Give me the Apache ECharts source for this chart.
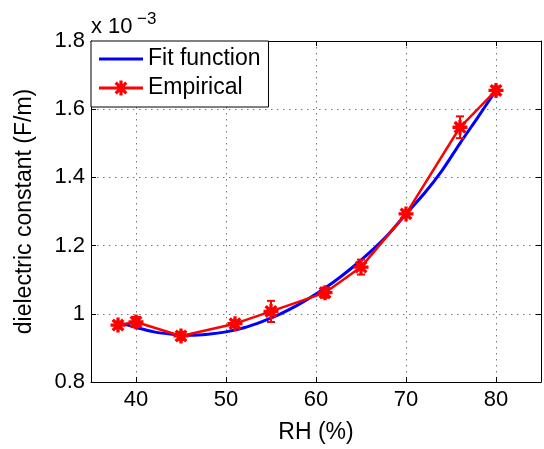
<!DOCTYPE html>
<html>
<head>
<meta charset="utf-8">
<script src="https://cdn.jsdelivr.net/npm/echarts@6/dist/echarts.min.js"></script>
<style>
  html, body { margin: 0; padding: 0; background: #fff; }
  #chart { width: 544px; height: 449px; }
</style>
</head>
<body>
<div id="chart"></div>
<script>
// Measured dielectric constant (x 10^-3 F/m) versus relative humidity
const rh = [38, 40, 45, 51, 55, 61, 65, 70, 76, 80];
const empirical = [0.967, 0.976, 0.935, 0.971, 1.007, 1.062, 1.137, 1.293, 1.547, 1.655];
const errorHalf = [0.010, 0.015, 0.012, 0.010, 0.031, 0.015, 0.022, 0.010, 0.032, 0.012];

// Fitted curve, sampled along the RH range
const fitRh = [38, 40, 42, 44, 46, 48, 50, 52, 54, 56, 58, 60, 62, 64, 66, 68, 70, 72, 74, 76, 78, 80];
const fitValues = [0.975, 0.960, 0.947, 0.940, 0.937, 0.940, 0.947, 0.959, 0.977, 0.999, 1.026, 1.058,
                   1.094, 1.135, 1.181, 1.232, 1.293, 1.352, 1.420, 1.500, 1.577, 1.655];

// Axis ranges and tick labels
const xRange = [35, 85];
const xTicks = [40, 50, 60, 70, 80];
const yTicks = [0.8, 1, 1.2, 1.4, 1.6, 1.8];
const yStep = 0.2;

const FONT = '"Liberation Sans", Arial, Helvetica, sans-serif';

// MATLAB-style '*' marker: four bars (+ and x), all wound the same way
function pt(x, y) { return x.toFixed(3) + ',' + y.toFixed(3); }
function starPath(cx, cy, r, w) {
  const a = 0.7071 * r, d = 0.7071 * w;
  return 'M' + pt(cx - r, cy - w) + 'L' + pt(cx + r, cy - w) + 'L' + pt(cx + r, cy + w) + 'L' + pt(cx - r, cy + w) + 'Z' +
    'M' + pt(cx - w, cy - r) + 'L' + pt(cx + w, cy - r) + 'L' + pt(cx + w, cy + r) + 'L' + pt(cx - w, cy + r) + 'Z' +
    'M' + pt(cx - a - d, cy - a + d) + 'L' + pt(cx - a + d, cy - a - d) + 'L' + pt(cx + a + d, cy + a - d) + 'L' + pt(cx + a - d, cy + a + d) + 'Z' +
    'M' + pt(cx - a + d, cy + a + d) + 'L' + pt(cx - a - d, cy + a - d) + 'L' + pt(cx + a - d, cy - a - d) + 'L' + pt(cx + a + d, cy - a + d) + 'Z';
}
const asterisk = 'path://' + starPath(0, 0, 1, 0.22);

// Legend swatches: plain line for the fit, line with '*' for the data
const lineIcon = 'path://M0,0L44,0L44,3L0,3Z';
const starLineIcon = 'path://M0,6L44,6L44,9L0,9Z' + starPath(22, 7.5, 7.5, 1.6);

const dotted = { color: '#777', width: 1, type: [1.5, 4.5] };
const black = { color: '#000', width: 1 };

const chart = echarts.init(document.getElementById('chart'), null, { renderer: 'canvas' });

chart.setOption({
  backgroundColor: '#fff',
  animation: false,
  textStyle: { fontFamily: FONT },
  grid: { left: 91, right: 2, top: 41, bottom: 66, show: false },
  legend: {
    data: [{ name: 'Fit function', icon: lineIcon }, { name: 'Empirical', icon: starLineIcon }],
    orient: 'vertical',
    left: 91,
    top: 41,
    itemWidth: 44,
    itemHeight: 15,
    itemGap: 5,
    padding: [6, 8, 7, 8],
    borderColor: '#000',
    borderWidth: 1,
    borderRadius: 0,
    backgroundColor: '#fff',
    textStyle: { fontSize: 23, color: '#000', fontFamily: FONT, lineHeight: 24 }
  },
  xAxis: [{
    type: 'value',
    min: xRange[0],
    max: xRange[1],
    position: 'bottom',
    name: 'RH (%)',
    nameLocation: 'middle',
    nameGap: 39,
    nameTextStyle: { fontSize: 23, color: '#000', fontFamily: FONT },
    axisLine: { show: true, onZero: false, lineStyle: black },
    axisTick: { show: true, inside: true, length: 5, lineStyle: black },
    axisLabel: {
      fontSize: 22, color: '#000', fontFamily: FONT, margin: 7,
      formatter: v => (xTicks.indexOf(v) >= 0 ? String(v) : '')
    },
    splitLine: { show: true, lineStyle: dotted }
  }, {
    type: 'value',
    min: xRange[0],
    max: xRange[1],
    position: 'top',
    axisLine: { show: true, onZero: false, lineStyle: black },
    axisTick: { show: true, inside: true, length: 5, lineStyle: black },
    axisLabel: { show: false },
    splitLine: { show: false }
  }],
  yAxis: [{
    type: 'value',
    min: yTicks[0],
    max: yTicks[yTicks.length - 1],
    interval: yStep,
    position: 'left',
    name: 'dielectric constant (F/m)',
    nameLocation: 'middle',
    nameRotate: 90,
    nameGap: 55,
    nameTextStyle: { fontSize: 23, color: '#000', fontFamily: FONT },
    axisLine: { show: true, onZero: false, lineStyle: black },
    axisTick: { show: true, inside: true, length: 5, lineStyle: black },
    axisLabel: { fontSize: 22, color: '#000', fontFamily: FONT, margin: 6 },
    splitLine: { show: true, lineStyle: dotted }
  }, {
    type: 'value',
    min: yTicks[0],
    max: yTicks[yTicks.length - 1],
    interval: yStep,
    position: 'right',
    axisLine: { show: true, onZero: false, lineStyle: black },
    axisTick: { show: true, inside: true, length: 5, lineStyle: black },
    axisLabel: { show: false },
    splitLine: { show: false }
  }],
  graphic: [
    { type: 'text', x: 91, y: 27, z: 10,
      style: { text: 'x 10', font: '22px ' + FONT, fill: '#000', verticalAlign: 'middle' } },
    { type: 'text', x: 137, y: 19, z: 10,
      style: { text: '\u22123', font: '17px ' + FONT, fill: '#000', verticalAlign: 'middle' } }
  ],
  series: [{
    name: 'Fit function',
    type: 'line',
    data: fitRh.map((x, i) => [x, fitValues[i]]),
    smooth: 0.3,
    showSymbol: false,
    symbol: 'none',
    lineStyle: { color: '#0000ff', width: 3 },
    itemStyle: { color: '#0000ff' },
    z: 2
  }, {
    name: 'Empirical bars',
    type: 'custom',
    data: rh.map((x, i) => [x, empirical[i], errorHalf[i]]),
    encode: { x: 0, y: 1 },
    z: 3,
    renderItem: function (params, api) {
      const x = api.value(0), y = api.value(1), e = api.value(2);
      const top = api.coord([x, y + e]);
      const bot = api.coord([x, y - e]);
      const cap = 4;
      const style = { stroke: '#ff0000', lineWidth: 2 };
      return {
        type: 'group',
        children: [
          { type: 'line', shape: { x1: top[0], y1: top[1], x2: bot[0], y2: bot[1] }, style },
          { type: 'line', shape: { x1: top[0] - cap, y1: top[1], x2: top[0] + cap, y2: top[1] }, style },
          { type: 'line', shape: { x1: bot[0] - cap, y1: bot[1], x2: bot[0] + cap, y2: bot[1] }, style }
        ]
      };
    }
  }, {
    name: 'Empirical',
    type: 'line',
    data: rh.map((x, i) => [x, empirical[i]]),
    symbol: asterisk,
    symbolSize: 15,
    showAllSymbol: true,
    lineStyle: { color: '#ff0000', width: 2.5 },
    itemStyle: { color: '#ff0000' },
    z: 4
  }]
});
</script>
</body>
</html>
